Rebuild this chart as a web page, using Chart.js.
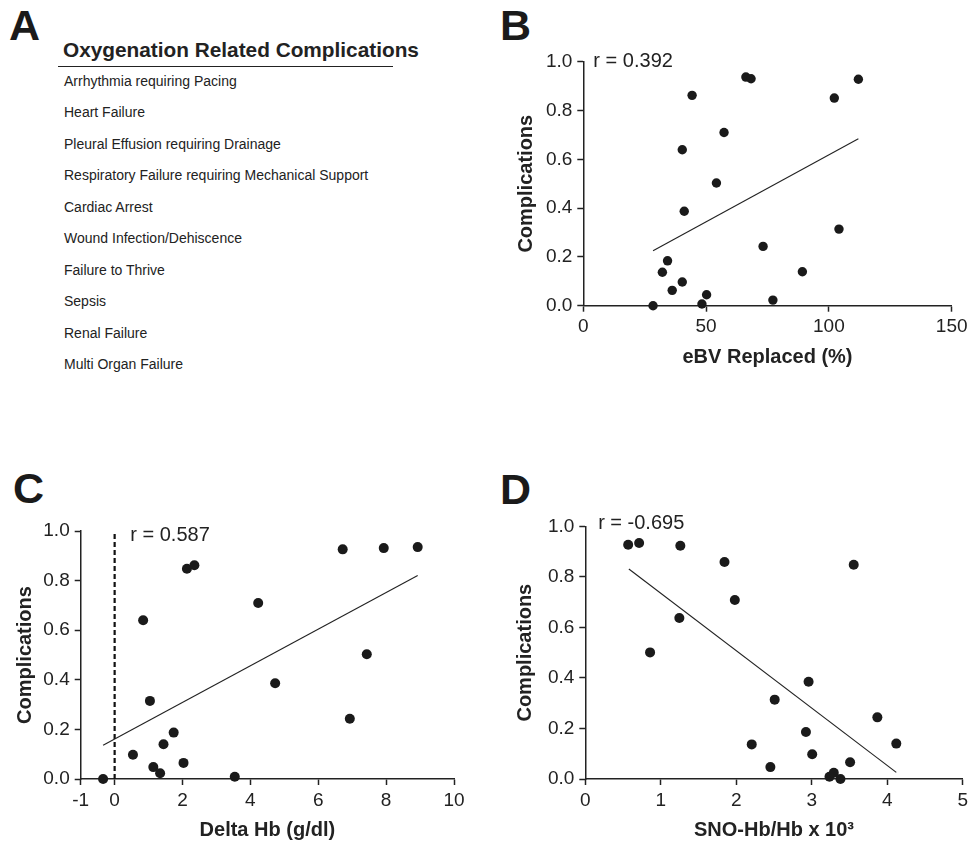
<!DOCTYPE html>
<html>
<head>
<meta charset="utf-8">
<title>Oxygenation related complications</title>
<script src="https://cdn.jsdelivr.net/npm/chart.js@4.4.1/dist/chart.umd.min.js"></script>
<style>
  body { margin: 0; background: #fff; width: 972px; height: 845px; position: relative; overflow: hidden;
         font-family: "Liberation Sans", Arial, sans-serif; color: #222; }
  .letter { position: absolute; font-weight: bold; font-size: 43px; line-height: 43px; color: #1a1a1a; }
  #listTitle { position: absolute; left: 63px; top: 39.8px; font-size: 20.8px; line-height: 20.8px; font-weight: bold; color: #222; white-space: nowrap; }
  #listRule { position: absolute; left: 58px; top: 65.5px; width: 335px; height: 1.5px; background: #222; }
  .item { position: absolute; left: 64px; font-size: 14px; line-height: 14px; color: #222; white-space: nowrap; }
  canvas { position: absolute; }
</style>
</head>
<body>
<div class="letter" style="left:9px;top:4.4px">A</div>
<div class="letter" style="left:500px;top:3.7px">B</div>
<div class="letter" style="left:13px;top:467px">C</div>
<div class="letter" style="left:500px;top:467.7px">D</div>

<div id="listTitle">Oxygenation Related Complications</div>
<div id="listRule"></div>
<div id="list"></div>

<canvas id="chartB" width="472" height="330" style="left:500px;top:40px"></canvas>
<canvas id="chartC" width="480" height="345" style="left:0px;top:500px"></canvas>
<canvas id="chartD" width="482" height="345" style="left:490px;top:500px"></canvas>

<script>
// Panel A: complication list
const complications = [
    "Arrhythmia requiring Pacing",
    "Heart Failure",
    "Pleural Effusion requiring Drainage",
    "Respiratory Failure requiring Mechanical Support",
    "Cardiac Arrest",
    "Wound Infection/Dehiscence",
    "Failure to Thrive",
    "Sepsis",
    "Renal Failure",
    "Multi Organ Failure"
];

// Panel B: eBV replaced vs complications
const ebvX = [28.4, 32.2, 34.3, 36.2, 40.3, 40.3, 41.1, 44.3, 48.3, 50.2,
              54.2, 57.3, 66.2, 68.3, 73.2, 77.2, 89.2, 102.2, 104.1, 112.0];
const ebvY = [0.000, 0.137, 0.184, 0.063, 0.097, 0.639, 0.387, 0.862, 0.007, 0.045,
              0.503, 0.710, 0.937, 0.930, 0.243, 0.023, 0.139, 0.851, 0.314, 0.928];
const ebvFitX = [28.4, 112.0];
const ebvFitY = [0.225, 0.684];
const ebvTicks = [0, 50, 100, 150];

// Panel C: delta Hb vs complications
const dhbX = [-0.34, 0.54, 0.84, 1.04, 1.14, 1.34, 1.44, 1.74, 2.03, 2.13,
              2.35, 3.54, 4.23, 4.73, 6.72, 6.93, 7.43, 7.93, 8.93];
const dhbY = [0.000, 0.098, 0.640, 0.315, 0.048, 0.023, 0.140, 0.187, 0.065, 0.848,
              0.862, 0.009, 0.710, 0.386, 0.926, 0.243, 0.503, 0.931, 0.935];
const dhbFitX = [-0.34, 8.93];
const dhbFitY = [0.136, 0.821];
const dhbZeroX = [0, 0];
const dhbZeroY = [0, 1.0];
const dhbTicks = [-1, 0, 2, 4, 6, 8, 10];

// Panel D: SNO-Hb/Hb vs complications
const snoX = [0.568, 0.713, 0.858, 1.246, 1.259, 1.844, 1.981, 2.205, 2.452, 2.509,
              2.923, 2.958, 3.006, 3.235, 3.292, 3.380, 3.508, 3.556, 3.869, 4.120];
const snoY = [0.927, 0.934, 0.501, 0.637, 0.923, 0.859, 0.708, 0.137, 0.047, 0.314,
              0.186, 0.385, 0.098, 0.009, 0.025, 0.000, 0.066, 0.848, 0.244, 0.140];
const snoFitX = [0.577, 4.12];
const snoFitY = [0.831, 0.026];
const snoTicks = [0, 1, 2, 3, 4, 5];

const yTicks = [0, 0.2, 0.4, 0.6, 0.8, 1.0];
const rValues = ["r = 0.392", "r = 0.587", "r = -0.695"];

const FONT = '"Liberation Sans", Arial, sans-serif';
const INK = "#222";

// list of complications
const list = document.getElementById("list");
complications.forEach((txt, i) => {
    const d = document.createElement("div");
    d.className = "item";
    d.style.top = (73.8 + i * 31.5) + "px";
    d.textContent = txt;
    list.appendChild(d);
});

const toPoints = (xs, ys) => xs.map((x, i) => ({ x: x, y: ys[i] }));

// draws the "r = ..." note at a data position
const rNote = {
    id: "rNote",
    afterDatasetsDraw(chart, args, opts) {
        const { ctx, scales } = chart;
        ctx.save();
        ctx.font = "20px " + FONT;
        ctx.fillStyle = INK;
        ctx.textAlign = "left";
        ctx.textBaseline = "middle";
        ctx.fillText(opts.text, scales.x.getPixelForValue(opts.x), scales.y.getPixelForValue(opts.y));
        ctx.restore();
    }
};

function axis(ticks, min, max, title, fmt, fitSize, titlePad, horizontal) {
    return {
        type: "linear",
        min: min,
        max: max,
        afterBuildTicks: s => { s.ticks = ticks.map(v => ({ value: v })); },
        afterFit: s => { if (horizontal) s.height = fitSize; else s.width = fitSize; },
        grid: { display: true, drawOnChartArea: false, drawTicks: true, tickLength: 6, tickWidth: 1.5, tickColor: INK },
        border: { display: true, color: INK, width: 1.5 },
        ticks: { color: INK, font: { size: 19, family: FONT }, padding: horizontal ? 4 : 5,
                 autoSkip: false, maxRotation: 0, callback: fmt },
        title: { display: true, text: title, color: INK, font: { size: 20, weight: "bold", family: FONT },
                 padding: horizontal ? { top: 0, bottom: titlePad } : { top: titlePad, bottom: 0 } }
    };
}

function scatterChart(id, c) {
    const datasets = [
        { data: c.points, pointRadius: c.radius, pointBackgroundColor: "#1a1a1a", pointBorderWidth: 0, showLine: false, clip: false },
        { data: c.fit, showLine: true, pointRadius: 0, borderColor: INK, borderWidth: 1.1, clip: false }
    ].concat(c.extra || []);
    return new Chart(document.getElementById(id), {
        type: "scatter",
        data: { datasets: datasets },
        options: {
            responsive: false,
            animation: false,
            events: [],
            layout: { padding: c.pad },
            plugins: { legend: { display: false }, tooltip: { enabled: false }, rNote: c.note },
            scales: {
                x: axis(c.xTicks, c.xMin, c.xMax, c.xTitle, v => String(v), c.xH, c.xTitlePad, true),
                y: axis(yTicks, 0, 1, "Complications", v => v.toFixed(1), c.yW, c.yTitlePad, false)
            }
        },
        plugins: [rNote]
    });
}

// B: eBV Replaced
scatterChart("chartB", {
    points: toPoints(ebvX, ebvY),
    fit: toPoints(ebvFitX, ebvFitY),
    radius: 4.7,
    xTicks: ebvTicks, xMin: 0, xMax: 150, xTitle: "eBV Replaced (%)",
    pad: { left: 0, top: 21.7, right: 20.3, bottom: 0 },
    yW: 83.3, xH: 64.3, xTitlePad: 1, yTitlePad: 14,
    note: { text: rValues[0], x: 4.1, y: 1.0 }
});

// C: Delta Hb
scatterChart("chartC", {
    points: toPoints(dhbX, dhbY),
    fit: toPoints(dhbFitX, dhbFitY),
    extra: [{ data: toPoints(dhbZeroX, dhbZeroY), showLine: true, pointRadius: 0, borderColor: "#111",
              borderWidth: 2.2, borderDash: [5, 3], clip: false }],
    radius: 5,
    xTicks: dhbTicks, xMin: -1, xMax: 10, xTitle: "Delta Hb (g/dl)",
    pad: { left: 0, top: 31, right: 26, bottom: 0 },
    yW: 80.7, xH: 66, xTitlePad: 3, yTitlePad: 13,
    note: { text: rValues[1], x: 0.46, y: 0.98 }
});

// D: SNO-Hb/Hb
scatterChart("chartD", {
    points: toPoints(snoX, snoY),
    fit: toPoints(snoFitX, snoFitY),
    radius: 5,
    xTicks: snoTicks, xMin: 0, xMax: 5, xTitle: "SNO-Hb/Hb x 10\u00B3",
    pad: { left: 0, top: 26.3, right: 8.7, bottom: 0 },
    yW: 95.3, xH: 66, xTitlePad: 3, yTitlePad: 23,
    note: { text: rValues[2], x: 0.17, y: 1.012 }
});
</script>
</body>
</html>
